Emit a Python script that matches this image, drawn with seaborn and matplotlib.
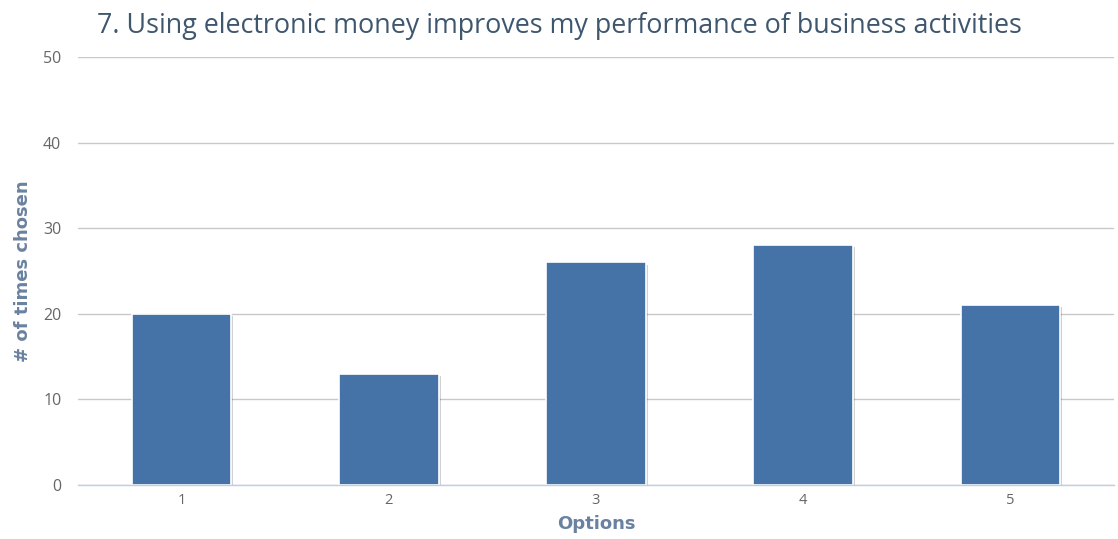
import matplotlib
matplotlib.use("Agg")
import matplotlib.pyplot as plt
import matplotlib.patheffects as pe
import seaborn as sns
import pandas as pd
import numpy as np

options = ["1", "2", "3", "4", "5"]
times_chosen = [20, 13, 26, 28, 21]
y_ticks = [0, 10, 20, 30, 40, 50]

title = "7. Using electronic money improves my performance of business activities"

sns.set_theme(style="white")
plt.rcParams["font.family"] = ["Open Sans", "DejaVu Sans"]

df = pd.DataFrame({"Options": options, "count": times_chosen})

fig = plt.figure(figsize=(11.18, 5.39), dpi=100)
ax = fig.add_axes([78 / 1118, 1 - 485 / 539, (1114 - 78) / 1118, (485 - 57) / 539])

sns.barplot(data=df, x="Options", y="count", color="#4572A7", saturation=1,
            width=0.48, edgecolor="white", linewidth=1.2, ax=ax, zorder=3)
for bar in ax.patches:
    bar.set_path_effects([pe.SimplePatchShadow(offset=(1.5, -1.5), shadow_rgbFace="#000000", alpha=0.18),
                          pe.Normal()])

ax.set_xlim(-0.5, len(options) - 0.5)
ax.set_ylim(0, 50)
ax.set_yticks(y_ticks)
ax.yaxis.grid(True, color="#C8C8C8", linewidth=1)
ax.set_axisbelow(True)

for side in ["top", "right", "left"]:
    ax.spines[side].set_visible(False)
ax.spines["bottom"].set_color("#C0D0E0")
ax.spines["bottom"].set_linewidth(1)
ax.spines["bottom"].set_zorder(4)

# category labels centered, tick marks at category boundaries
ax.set_xticks(np.arange(len(options)))
ax.set_xticklabels(options)
ax.tick_params(axis="x", which="major", length=0, pad=6, labelsize=10.5, labelcolor="#666666")
ax.set_xticks(np.arange(-0.5, len(options)), minor=True)
ax.tick_params(axis="x", which="minor", length=6, width=1, color="#C0D0E0", direction="out")
ax.tick_params(axis="y", length=0, pad=12, labelsize=11.5, labelcolor="#666666")

label_font = dict(fontsize=13, fontweight="bold", color="#6A82A0", family="DejaVu Sans")
ax.set_xlabel("Options", labelpad=5, **label_font)
ax.set_ylabel("# of times chosen", labelpad=8, **label_font)

fig.text(97 / 1118, 1 - 33 / 539, title, fontsize=19.4, color="#3E576F", ha="left", va="baseline")

fig.savefig("out.png", dpi=100, facecolor="white")
